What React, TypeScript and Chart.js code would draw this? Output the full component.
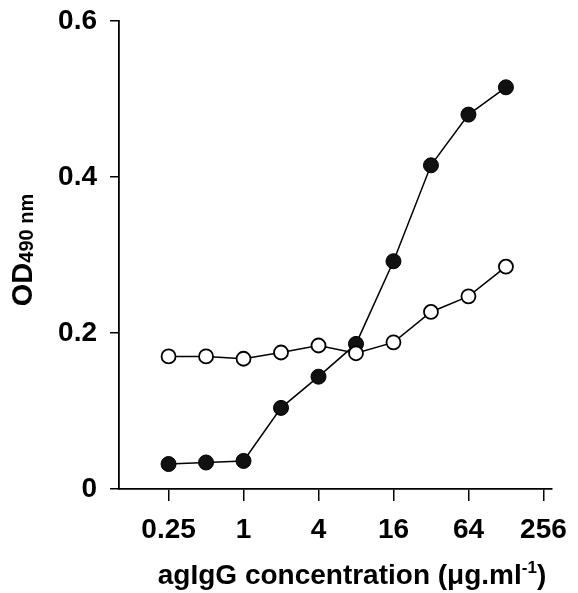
import React, { useEffect, useRef } from "react";
import { Chart, registerables } from "chart.js";

Chart.register(...registerables);

const concentrations = [0.25, 0.5, 1, 2, 4, 8, 16, 32, 64, 128];
const filledValues = [0.032, 0.034, 0.036, 0.104, 0.144, 0.186, 0.292, 0.415, 0.48, 0.515];
const openValues = [0.17, 0.17, 0.167, 0.175, 0.184, 0.174, 0.188, 0.227, 0.247, 0.285];
const xTickValues = [0.25, 1, 4, 16, 64, 256];
const yTickValues = [0, 0.2, 0.4, 0.6];

const FONT = "'Liberation Sans', Arial, Helvetica, sans-serif";

const titlePlugin = {
  id: "customTitles",
  afterDraw(chart: any) {
    const ctx = chart.ctx as CanvasRenderingContext2D;
    ctx.save();
    ctx.fillStyle = "#000";
    ctx.textBaseline = "alphabetic";
    ctx.textAlign = "left";
    // X title
    const main = "agIgG concentration (\u03bcg.ml";
    const sup = "-1";
    const close = ")";
    const bigFont = `bold 28px ${FONT}`;
    const supFont = `bold 17px ${FONT}`;
    ctx.font = bigFont;
    const wMain = ctx.measureText(main).width;
    const wClose = ctx.measureText(close).width;
    ctx.font = supFont;
    const wSup = ctx.measureText(sup).width;
    const total = wMain + wSup + wClose;
    const cx = 352;
    const baseY = 584;
    let x = cx - total / 2;
    ctx.font = bigFont;
    ctx.fillText(main, x, baseY);
    x += wMain;
    ctx.font = supFont;
    ctx.fillText(sup, x, baseY - 11);
    x += wSup;
    ctx.font = bigFont;
    ctx.fillText(close, x, baseY);

    // Y title
    ctx.translate(32, 250);
    ctx.rotate(-Math.PI / 2);
    const od = "OD";
    const sub = "490 nm";
    const odFont = `bold 29px ${FONT}`;
    const subFont = `bold 20px ${FONT}`;
    ctx.font = odFont;
    const wOd = ctx.measureText(od).width;
    ctx.font = subFont;
    const wSub = ctx.measureText(sub).width;
    const t2 = wOd + wSub;
    let lx = -t2 / 2;
    ctx.font = odFont;
    ctx.fillText(od, lx, 0);
    lx += wOd;
    ctx.font = subFont;
    ctx.fillText(sub, lx, 1);
    ctx.restore();
  },
};

export default function App() {
  const canvasRef = useRef<HTMLCanvasElement | null>(null);

  useEffect(() => {
    if (!canvasRef.current) return;
    const chart = new Chart(canvasRef.current, {
      type: "line",
      data: {
        datasets: [
          {
            label: "open",
            data: concentrations.map((c, i) => ({ x: c, y: openValues[i] })),
            borderColor: "#000",
            borderWidth: 1.5,
            backgroundColor: "#fff",
            pointBackgroundColor: "#fff",
            pointBorderColor: "#000",
            pointBorderWidth: 1.8,
            pointRadius: 7,
            tension: 0,
          },
          {
            label: "filled",
            data: concentrations.map((c, i) => ({ x: c, y: filledValues[i] })),
            borderColor: "#000",
            borderWidth: 1.5,
            backgroundColor: "#000",
            pointBackgroundColor: "#111",
            pointBorderColor: "#000",
            pointBorderWidth: 1,
            pointRadius: 7.5,
            tension: 0,
          },
        ],
      },
      options: {
        animation: false,
        responsive: false,
        maintainAspectRatio: false,
        layout: { padding: { top: 21, right: 26, left: 0, bottom: 0 } },
        plugins: {
          legend: { display: false },
          tooltip: { enabled: false },
          title: { display: false },
        },
        scales: {
          x: {
            type: "logarithmic",
            min: 0.1,
            max: 300,
            afterBuildTicks: (scale: any) => {
              scale.ticks = xTickValues.map((v) => ({ value: v }));
            },
            afterFit: (scale: any) => {
              scale.height = 104;
              scale.paddingLeft = 0;
              scale.paddingRight = 0;
            },
            ticks: {
              autoSkip: false,
              maxRotation: 0,
              color: "#000",
              padding: 12,
              font: { family: FONT, size: 28, weight: "bold" },
              callback: (v: any) => String(v),
            },
            grid: {
              drawOnChartArea: false,
              drawTicks: true,
              tickLength: 12,
              color: "#000",
              lineWidth: 1.5,
            },
            border: { display: true, color: "#000", width: 1.8 },
          },
          y: {
            type: "linear",
            min: 0,
            max: 0.6,
            afterBuildTicks: (scale: any) => {
              scale.ticks = yTickValues.map((v) => ({ value: v }));
            },
            afterFit: (scale: any) => {
              scale.width = 119;
              scale.paddingTop = 0;
              scale.paddingBottom = 0;
            },
            ticks: {
              color: "#000",
              padding: 13,
              font: { family: FONT, size: 28, weight: "bold" },
              callback: (v: any) => (v === 0 ? "0" : Number(v).toFixed(1)),
            },
            grid: {
              drawOnChartArea: false,
              drawTicks: true,
              tickLength: 9,
              color: "#000",
              lineWidth: 1.5,
            },
            border: { display: true, color: "#000", width: 1.8 },
          },
        },
      },
      plugins: [titlePlugin],
    } as any);
    return () => chart.destroy();
  }, []);

  return (
    <div style={{ position: "fixed", left: 0, top: 0, width: 578, height: 593, background: "#fff" }}>
      <canvas ref={canvasRef} width={578} height={593} style={{ width: 578, height: 593 }} />
    </div>
  );
}
